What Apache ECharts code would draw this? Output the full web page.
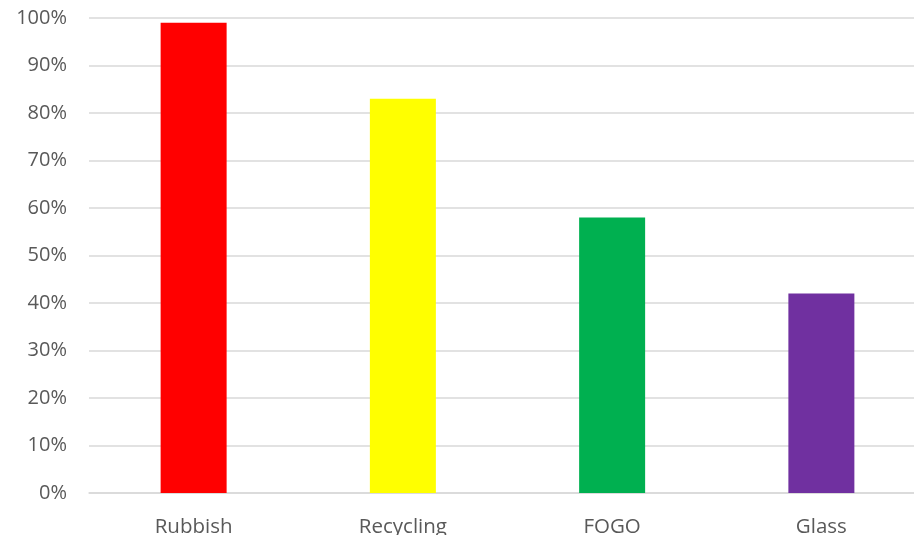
<!DOCTYPE html>
<html>
<head>
<meta charset="utf-8">
<script src="https://cdn.jsdelivr.net/npm/echarts@6/dist/echarts.min.js"></script>
<style>
html,body{margin:0;padding:0;background:#fff;}
#chart{width:914px;height:535px;}
</style>
</head>
<body>
<div id="chart"></div>
<script>
const categories = ["Rubbish", "Recycling", "FOGO", "Glass"];
const values = [99, 83, 58, 42];
const barColors = ["#FF0000", "#FFFF00", "#00B050", "#7030A0"];
const yTicks = { min: 0, max: 100, interval: 10 };

const chart = echarts.init(document.getElementById('chart'));
chart.setOption({
  animation: false,
  grid: { left: 89, top: 18, right: -12, bottom: 42, containLabel: false, outerBoundsMode: 'none' },
  xAxis: {
    type: 'category',
    data: categories,
    axisLine: { lineStyle: { color: '#d9d9d9', width: 1.5 } },
    axisTick: { show: false },
    axisLabel: { color: '#595959', fontSize: 20.5, fontFamily: 'Open Sans, sans-serif', margin: 24 }
  },
  yAxis: {
    type: 'value',
    min: yTicks.min, max: yTicks.max, interval: yTicks.interval,
    axisLine: { show: false },
    axisTick: { show: false },
    splitLine: { lineStyle: { color: '#d9d9d9', width: 1.5 } },
    axisLabel: { color: '#595959', fontSize: 20, fontFamily: 'Open Sans, sans-serif', margin: 22, formatter: '{value}%' }
  },
  series: [{
    type: 'bar',
    barWidth: 66,
    data: values.map((v, i) => ({ value: v, itemStyle: { color: barColors[i] } }))
  }]
});
</script>
</body>
</html>
